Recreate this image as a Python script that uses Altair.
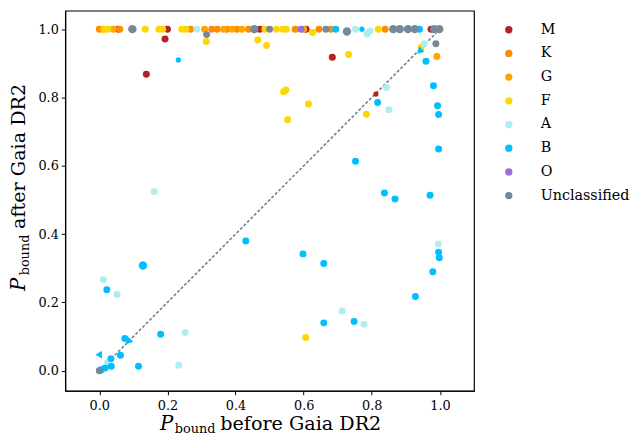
import altair as alt
import pandas as pd

# ---- data ----
classes = ["M", "K", "G", "F", "A", "B", "O", "Unclassified"]
colors = ["#b22222", "#ff8c00", "#ffa500", "#ffd700", "#afeeee", "#00bfff", "#9370db", "#778899"]

# (P_before, P_after, class, marker group)
p_before = [
    # top row (P_after ~ 1)
    0.000, 0.015, 0.041, 0.056, 0.097, 0.135, 0.175, 0.186, 0.200, 0.242,
    0.254, 0.268, 0.286, 0.309, 0.346, 0.365, 0.375, 0.404, 0.418, 0.438,
    0.455, 0.471, 0.486, 0.500, 0.520, 0.539, 0.549, 0.592, 0.607, 0.626,
    0.645, 0.665, 0.679, 0.694, 0.727, 0.752, 0.771, 0.786, 0.795, 0.819,
    0.839, 0.863, 0.882, 0.906, 0.926, 0.940, 0.974, 0.983, 0.998, 0.025,
    0.330, 0.390, 0.575, 0.600, 0.010, 0.060,
    # just below the top row
    0.193, 0.314, 0.315, 0.465, 0.491, 0.684, 0.732, 0.232, 0.954, 0.988,
    0.959, 0.991, 0.945,
    # the rest
    0.138, 0.541, 0.548, 0.614, 0.553, 0.812, 0.843, 0.817, 0.850, 0.784,
    0.981, 0.993, 0.996, 0.996, 0.752, 0.161, 0.837, 0.868, 0.971, 0.430,
    0.598, 0.995, 0.996, 0.998, 0.659, 0.979, 0.128, 0.012, 0.022, 0.052,
    0.928, 0.713, 0.659, 0.748, 0.777, 0.606, 0.180, 0.252, 0.075, 0.062,
    0.034, 0.022, 0.115, 0.233, 0.035, 0.017, 0.006, 0.002, 0.000,
]
p_after = [
    1.000, 1.000, 1.000, 1.000, 1.000, 1.000, 1.000, 1.000, 1.000, 1.000,
    1.000, 1.000, 1.000, 1.000, 1.000, 1.000, 1.000, 1.000, 1.000, 1.000,
    1.000, 1.000, 1.000, 1.000, 1.000, 1.000, 1.000, 1.000, 1.000, 0.990,
    1.000, 1.000, 1.000, 1.000, 0.993, 1.000, 1.000, 0.986, 0.995, 1.000,
    1.000, 1.000, 1.000, 1.000, 1.000, 1.000, 1.000, 1.000, 1.000, 1.000,
    1.000, 1.000, 1.000, 1.000, 1.000, 1.000,
    0.971, 0.964, 0.984, 0.968, 0.952, 0.918, 0.926, 0.910, 0.957, 0.957,
    0.906, 0.920, 0.947,
    0.868, 0.817, 0.822, 0.781, 0.735, 0.810, 0.829, 0.785, 0.764, 0.751,
    0.834, 0.776, 0.750, 0.649, 0.613, 0.525, 0.520, 0.503, 0.514, 0.380,
    0.342, 0.371, 0.347, 0.331, 0.314, 0.290, 0.308, 0.266, 0.237, 0.223,
    0.217, 0.175, 0.140, 0.144, 0.136, 0.097, 0.107, 0.112, 0.094, 0.045,
    0.035, 0.025, 0.013, 0.016, 0.013, 0.008, 0.003, 0.001, 0.000,
]
sp_class = [
    "K", "F", "G", "M", "Unclassified", "F", "F", "F", "M", "F",
    "F", "K", "A", "G", "K", "G", "K", "K", "G", "K",
    "Unclassified", "M", "F", "Unclassified", "F", "F", "F", "O", "M", "F",
    "K", "Unclassified", "K", "B", "Unclassified", "A", "B", "A", "A", "F",
    "K", "Unclassified", "Unclassified", "Unclassified", "Unclassified", "B", "M", "Unclassified", "Unclassified", "F",
    "K", "G", "K", "G", "G", "K",
    "M", "F", "Unclassified", "F", "F", "M", "F", "B", "A", "Unclassified",
    "B", "G", "F",
    "M", "F", "F", "F", "F", "M", "A", "B", "A", "F",
    "B", "B", "B", "B", "B", "A", "B", "B", "B", "B",
    "B", "A", "B", "B", "B", "B", "B", "A", "B", "A",
    "B", "A", "B", "B", "A", "F", "B", "A", "B", "B",
    "B", "A", "B", "A", "B", "B", "B", "B", "Unclassified",
]
group = [
    "n", "n", "n", "n", "L", "n", "n", "n", "n", "n",
    "n", "n", "n", "n", "n", "n", "n", "n", "n", "n",
    "L", "n", "n", "n", "n", "n", "n", "n", "n", "n",
    "n", "n", "n", "n", "L", "n", "s", "n", "n", "n",
    "n", "L", "L", "L", "L", "n", "n", "L", "L", "n",
    "n", "n", "n", "n", "n", "n",
    "n", "n", "n", "n", "n", "n", "n", "s", "n", "n",
    "n", "n", "n",
    "n", "n", "n", "n", "n", "s", "n", "n", "n", "n",
    "n", "n", "n", "n", "n", "n", "n", "n", "n", "n",
    "n", "n", "n", "n", "n", "n", "L", "n", "n", "n",
    "n", "n", "n", "n", "n", "n", "n", "n", "n", "n",
    "n", "s", "n", "n", "n", "n", "n", "n", "n",
]

# arrow heads (blue triangles)
tri_x = [-0.002, 0.085, 0.940]
tri_y = [0.047, 0.085, 0.935]
tri_dir = [0, 315, 315]

# one-to-one guide line
line_x = [0.045, 0.99]
line_y = [0.045, 0.99]

# ---- build ----
df = pd.DataFrame({"x": p_before, "y": p_after, "cls": sp_class, "g": group})
df["order"] = df["cls"].map({c: i for i, c in enumerate(classes)})
df = df.sort_values("order", kind="stable")

xs = alt.Scale(domain=[-0.1, 1.1], nice=False, zero=False)
ys = alt.Scale(domain=[-0.059, 1.054], nice=False, zero=False)
ticks = [0.0, 0.2, 0.4, 0.6, 0.8, 1.0]
FONT = "DejaVu Serif"

xax = alt.Axis(values=ticks, format=".1f", title=None, grid=False)
yax = alt.Axis(values=ticks, format=".1f", title=None, grid=False)

line = alt.Chart(pd.DataFrame({"x": line_x, "y": line_y})).mark_line(
    color="#6f7f90", strokeDash=[3, 2], strokeWidth=1.6
).encode(x=alt.X("x:Q", scale=xs, axis=xax), y=alt.Y("y:Q", scale=ys, axis=yax))

pts = alt.Chart(df).mark_circle(opacity=1).encode(
    x=alt.X("x:Q", scale=xs, axis=xax),
    y=alt.Y("y:Q", scale=ys, axis=yax),
    color=alt.Color(
        "cls:N",
        scale=alt.Scale(domain=classes, range=colors),
        legend=alt.Legend(
            title=None, orient="none", legendX=442, legendY=12,
            symbolType="circle", symbolSize=55, symbolStrokeWidth=0,
            labelFont=FONT, labelFontSize=14.5, labelColor="black",
            labelOffset=25, rowPadding=9.0, padding=0, labelLimit=200,
        ),
    ),
    size=alt.Size("g:N", scale=alt.Scale(domain=["s", "n", "L"], range=[28, 72, 150]), legend=None),
    order=alt.Order("order:Q"),
)

tri = alt.Chart(pd.DataFrame({"x": tri_x, "y": tri_y, "a": tri_dir})).mark_point(
    shape="triangle-left", filled=True, color="#00bfff", opacity=1, size=60
).encode(
    x=alt.X("x:Q", scale=xs, axis=xax),
    y=alt.Y("y:Q", scale=ys, axis=yax),
    angle=alt.Angle("a:Q", scale=None),
)

def txt(t, x, y, size, style="normal", angle=0):
    return alt.Chart(pd.DataFrame({"t": [t]})).mark_text(
        align="left", baseline="alphabetic", font=FONT, fontSize=size,
        fontStyle=style, angle=angle, color="black",
    ).encode(x=alt.value(x), y=alt.value(y), text="t:N")

titles = [
    txt("P", 96, 425, 20, "italic"),
    txt("bound", 111, 428, 13),
    txt("before Gaia DR2", 157, 425, 19.4),
    txt("P", -41, 284, 20, "italic", 270),
    txt("bound", -37, 268, 13, "normal", 270),
    txt("after Gaia DR2", -41, 221, 19.4, "normal", 270),
]

chart = alt.layer(line, pts, tri, *titles).properties(
    width=414, height=385,
    autosize=alt.AutoSizeParams(type="none"),
    padding={"left": 58, "top": 0, "right": 158, "bottom": 43},
).configure_view(stroke="black", strokeWidth=1.2).configure_axis(
    labelFont=FONT, labelFontSize=13, labelColor="black",
    domainColor="black", tickColor="black", tickSize=4, labelPadding=3,
).configure_axisX(labelPadding=5)

chart.save("out.html", embed_options={"renderer": "svg", "actions": False})
